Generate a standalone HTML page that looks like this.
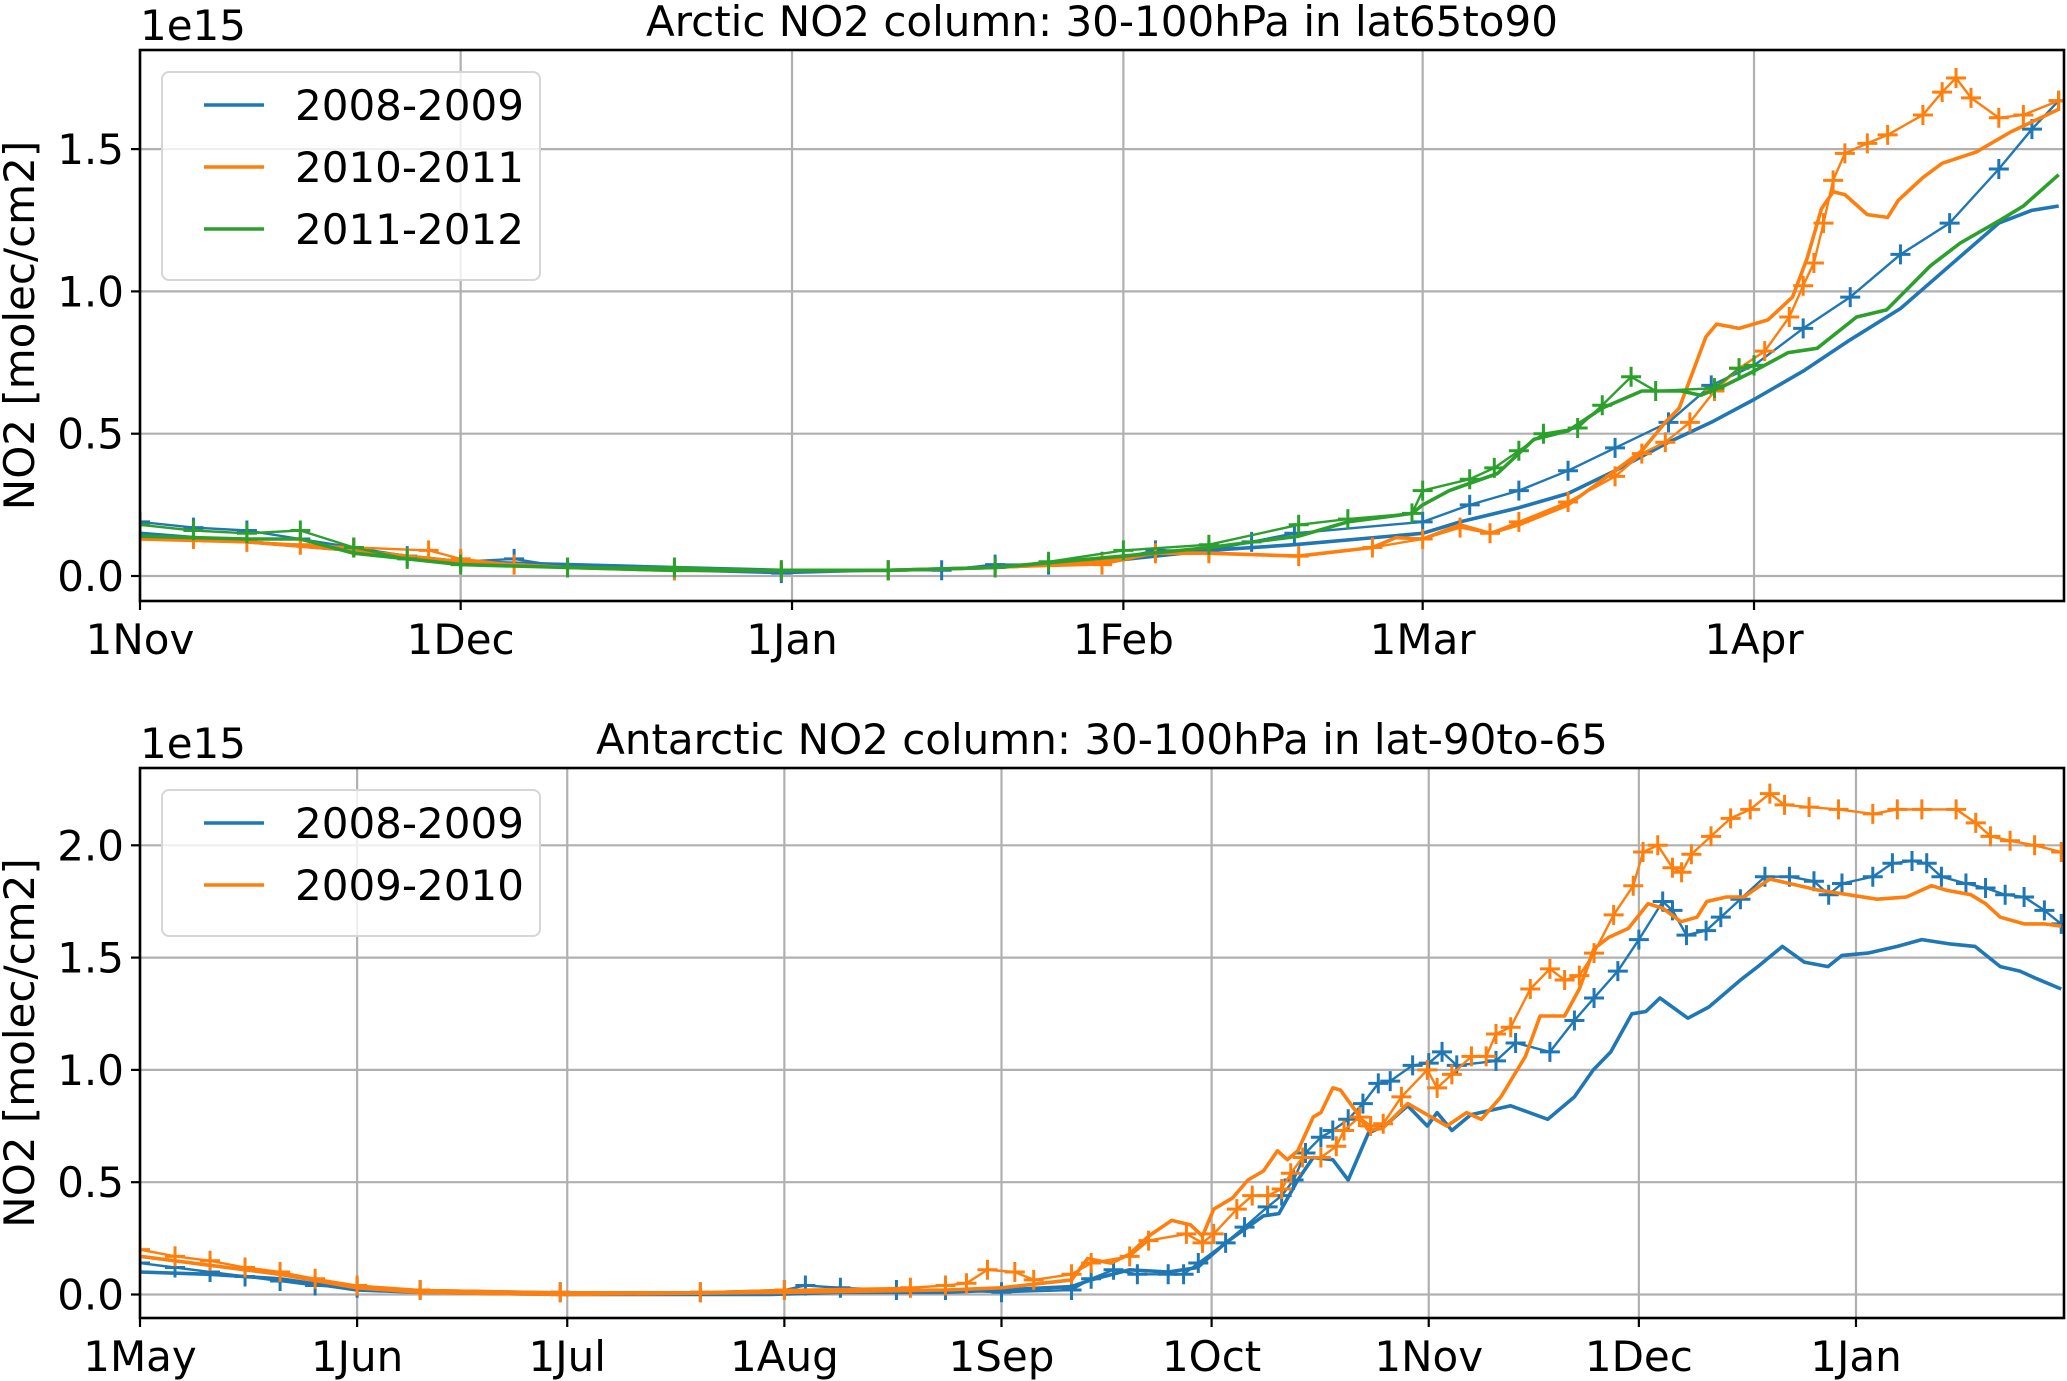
<!DOCTYPE html>
<html><head><meta charset="utf-8"><style>
html,body{margin:0;padding:0;background:#fff}
svg{display:block}
text{font-family:"DejaVu Sans","Liberation Sans",sans-serif;fill:#000}
</style></head><body>
<svg id="fig" width="2067" height="1381" viewBox="0 0 2067 1381" xmlns="http://www.w3.org/2000/svg"></svg>
<script>
// ---------- Top panel (Arctic), x = days since 1 Nov ----------
const topXTicks = [0,30,61,92,120,151];
const topXTickLabels = ["1Nov","1Dec","1Jan","1Feb","1Mar","1Apr"];
const topYTicks = [0,0.5,1.0,1.5];
const topYTickLabels = ["0.0","0.5","1.0","1.5"];
const topLegend = ["2008-2009","2010-2011","2011-2012"];

const a08ModDays = [0,10,20,30,40,50,60,70,80,90,100,108,120,123.5,129,133.6,138,143,147,151,155.6,160,164.7,169.3,173.9,177,179.5];
const a08ModVals = [0.15,0.12,0.09,0.05,0.04,0.03,0.02,0.02,0.03,0.05,0.09,0.11,0.15,0.19,0.24,0.29,0.37,0.47,0.54,0.62,0.72,0.83,0.94,1.09,1.24,1.285,1.30];
const a08ObsDays = [0,5,10,15,20,25,30,35,40,50,60,70,75,80,85,90,95,100,104,108,120,124.4,129,133.6,138,143,147,151,155.6,160,164.7,169.3,173.9,177,179.5];
const a08ObsVals = [0.19,0.17,0.16,0.13,0.10,0.07,0.05,0.06,0.03,0.02,0.01,0.02,0.02,0.04,0.04,0.05,0.09,0.09,0.12,0.15,0.19,0.25,0.30,0.37,0.45,0.54,0.67,0.74,0.87,0.98,1.13,1.24,1.43,1.57,1.67];
const a10ModDays = [0,10,20,30,40,50,60,70,80,90,95,100,108.4,115.3,117.5,120,123.5,126.3,129,133.6,138,140.5,142.7,144,145.3,146.5,147.5,149.6,152.3,154.6,156,157.3,158.4,159.5,161.6,163.5,164.5,166.8,168.6,171.8,175,179.5];
const a10ModVals = [0.13,0.12,0.09,0.05,0.03,0.02,0.02,0.02,0.03,0.05,0.08,0.08,0.07,0.10,0.135,0.13,0.18,0.15,0.18,0.25,0.37,0.44,0.54,0.59,0.72,0.84,0.885,0.87,0.90,0.98,1.12,1.29,1.35,1.34,1.27,1.26,1.32,1.40,1.45,1.49,1.56,1.64];
const a10ObsDays = [0,5,10,15,20,27,30,35,40,50,60,70,80,90,95,100,108.4,115.3,120,123.5,126.3,129,133.6,138,140.5,142.7,145,147.3,149.6,152,154.3,155.6,156.6,157.5,158.4,159.5,161.6,163.5,166.8,168.6,169.9,171.3,173.9,176.2,179.5];
const a10ObsVals = [0.13,0.13,0.12,0.11,0.10,0.09,0.06,0.04,0.03,0.02,0.02,0.02,0.03,0.04,0.08,0.08,0.07,0.10,0.13,0.17,0.15,0.19,0.26,0.35,0.43,0.47,0.54,0.65,0.73,0.79,0.91,1.02,1.10,1.24,1.39,1.485,1.52,1.55,1.62,1.70,1.75,1.68,1.61,1.62,1.67];
const a11ModDays = [0,10,15,20,30,40,50,60,70,80,92,100,108.4,113,119,120,122.5,127,130.4,133.6,136.8,140.5,144.2,146,148.3,151,154.2,156.9,160.6,163.4,167.5,170.3,174,176.2,179.5];
const a11ModVals = [0.14,0.13,0.13,0.08,0.04,0.03,0.02,0.02,0.02,0.03,0.07,0.10,0.14,0.19,0.22,0.25,0.30,0.36,0.48,0.51,0.59,0.65,0.65,0.635,0.67,0.72,0.785,0.80,0.91,0.935,1.09,1.17,1.25,1.30,1.41];
const a11ObsDays = [0,5,10,15,20,25,30,40,50,60,70,80,85,92,100,108.4,113,119,120,124.4,126.7,129,131.3,134.5,136.8,139.5,141.8,147.3,149.6,151];
const a11ObsVals = [0.18,0.16,0.15,0.16,0.10,0.06,0.04,0.03,0.03,0.02,0.02,0.03,0.05,0.09,0.11,0.18,0.20,0.22,0.30,0.34,0.38,0.44,0.50,0.52,0.60,0.70,0.65,0.66,0.73,0.74];

// ---------- Bottom panel (Antarctic), x = days since 1 May ----------
const botXTicks = [0,31,61,92,123,153,184,214,245];
const botXTickLabels = ["1May","1Jun","1Jul","1Aug","1Sep","1Oct","1Nov","1Dec","1Jan"];
const botYTicks = [0,0.5,1.0,1.5,2.0];
const botYTickLabels = ["0.0","0.5","1.0","1.5","2.0"];
const botLegend = ["2008-2009","2009-2010"];

const b08ModDays = [0,10,20,31,40,60,90,100,115,123,133,135.8,141.3,146.8,151,155,160.4,162.6,165.3,167.5,170.3,172.5,175.4,177.7,181,183.8,185.2,187.3,190,195.7,201,204.8,207.5,210,213,215,217,221,224,228.5,231,234.5,237.6,241,243,246.7,250.9,254.4,258.6,262,265.6,268.4,270.5,274.3];
const b08ModVals = [0.10,0.09,0.07,0.02,0.01,0.00,0.00,0.01,0.01,0.02,0.035,0.065,0.11,0.10,0.12,0.23,0.35,0.36,0.51,0.61,0.60,0.51,0.72,0.75,0.84,0.75,0.81,0.73,0.80,0.84,0.78,0.88,1.00,1.08,1.25,1.26,1.32,1.23,1.28,1.40,1.46,1.55,1.48,1.46,1.51,1.52,1.55,1.58,1.56,1.55,1.46,1.44,1.41,1.36];
const b08ObsDays = [0,5,10,15,20,25,31,40,60,80,92,95,100,108,115,123,133,135.8,139,142.4,146.8,149,151.1,155,157.7,161,163,164.7,166.4,168.6,170.3,172.5,174.6,176.8,178.5,181.7,184,185.9,188,193.6,196.4,201.3,204.8,207.6,211,214,217.4,218.8,220.8,223.6,225.7,228.5,232,235.5,239,241.1,243,247.4,250.2,253,255.1,257.2,260.7,263.5,266.3,269,271.9,274.3];
const b08ObsVals = [0.14,0.12,0.10,0.08,0.06,0.04,0.03,0.02,0.01,0.01,0.02,0.04,0.03,0.02,0.02,0.01,0.02,0.07,0.11,0.09,0.09,0.09,0.14,0.23,0.30,0.39,0.44,0.51,0.63,0.70,0.73,0.78,0.85,0.94,0.95,1.02,1.03,1.08,1.02,1.04,1.12,1.08,1.22,1.32,1.44,1.58,1.75,1.71,1.60,1.62,1.68,1.76,1.86,1.86,1.84,1.78,1.83,1.86,1.92,1.93,1.92,1.86,1.83,1.81,1.78,1.77,1.71,1.65];
const b09ModDays = [0,10,20,31,40,60,92,115,123,133,135.3,138.6,141.3,144,147.3,150,151.7,153.3,156,158.2,160.4,162.4,163.8,165.3,167.5,168.6,170.3,171.4,173.5,175.4,177.4,181,183.8,186.6,189.4,191.5,194.3,197.8,199.9,203.4,205.5,207.6,209.7,212.5,215.3,217.4,220,222.3,223.7,226.5,229,232.7,235.5,239.7,243.9,248,252.2,255.8,257.9,261.4,263.5,265.6,269,271.9,274.3];
const b09ModVals = [0.17,0.13,0.09,0.03,0.01,0.00,0.01,0.02,0.03,0.065,0.16,0.14,0.18,0.26,0.33,0.31,0.26,0.38,0.43,0.51,0.55,0.64,0.60,0.64,0.79,0.81,0.92,0.91,0.82,0.73,0.74,0.85,0.80,0.75,0.81,0.78,0.88,1.06,1.24,1.24,1.36,1.54,1.59,1.63,1.74,1.72,1.66,1.68,1.75,1.77,1.77,1.85,1.83,1.80,1.78,1.76,1.77,1.82,1.80,1.78,1.74,1.68,1.65,1.65,1.64];
const b09ObsDays = [0,5,10,15,20,25,31,40,60,80,92,110,115,118,121,124.9,127.6,133,135.8,141.3,144,149.4,151.7,153.3,156.6,158.8,161,163,164.3,166,168.6,170.8,171.9,174.1,175.7,177.5,180.1,183.8,185.2,187.3,190.1,192.2,193.6,195.7,198.5,201.3,203.4,205.5,207.6,210.4,213.2,214.6,216.7,218.8,220.1,221.5,224.3,227.1,229.9,232.7,234.8,238.3,242.5,247.4,250.9,254.4,259.3,262.1,264.2,267,270.5,274.3];
const b09ObsVals = [0.20,0.17,0.15,0.12,0.10,0.07,0.04,0.02,0.01,0.01,0.02,0.03,0.04,0.05,0.11,0.10,0.065,0.09,0.14,0.17,0.24,0.27,0.23,0.27,0.38,0.44,0.44,0.47,0.54,0.61,0.61,0.66,0.73,0.79,0.75,0.76,0.88,1.00,0.92,0.98,1.06,1.06,1.16,1.19,1.36,1.45,1.40,1.42,1.52,1.69,1.82,1.97,2.00,1.90,1.88,1.96,2.04,2.12,2.16,2.23,2.18,2.17,2.16,2.14,2.16,2.16,2.16,2.10,2.04,2.02,2.00,1.97];

const C = {blue:"#1f77b4", orange:"#ff7f0e", green:"#2ca02c"};
const NS = "http://www.w3.org/2000/svg";
const svg = document.getElementById("fig");
function mk(tag, attrs, parent){
  const e = document.createElementNS(NS, tag);
  for (const k in attrs) e.setAttribute(k, attrs[k]);
  (parent||svg).appendChild(e);
  return e;
}

function panel(cfg){
  const g = mk("g", {});
  
  
  const L=cfg.left, R=cfg.right, T=cfg.top, B=cfg.bottom;
  const xs = d => L + (d - cfg.xmin) / (cfg.xmax - cfg.xmin) * (R - L);
  const ys = v => cfg.y0 - v * cfg.ppu;
  const clip = mk("clipPath", {id: cfg.name + "-clip"}, g);
  mk("rect", {x:L, y:T, width:R-L, height:B-T}, clip);
  cfg.xTicks.forEach((t,i) => {
    const l = mk("line", {x1:xs(t), x2:xs(t), y1:T, y2:B, stroke:"#b0b0b0", "stroke-width":2.2}, g);
    
    
    const tk = mk("line", {x1:xs(t), x2:xs(t), y1:B, y2:B+9, stroke:"#000", "stroke-width":2.2}, g);
    
    
    const tx = mk("text", {x:xs(t), y:B+53, "font-size":42, "text-anchor":"middle"}, g);
    tx.textContent = cfg.xLabels[i];
    
    
  });
  cfg.yTicks.forEach((t,i) => {
    const l = mk("line", {x1:L, x2:R, y1:ys(t), y2:ys(t), stroke:"#b0b0b0", "stroke-width":2.2}, g);
    
    
    const tk = mk("line", {x1:L-9, x2:L, y1:ys(t), y2:ys(t), stroke:"#000", "stroke-width":2.2}, g);
    
    
    const tx = mk("text", {x:L-16, y:ys(t)+15, "font-size":42, "text-anchor":"end"}, g);
    tx.textContent = cfg.yLabels[i];
    
    
  });
  const sg = mk("g", {"clip-path":"url(#" + cfg.name + "-clip)"}, g);
  cfg.series.forEach(s => {
    const pts = s.days.map((d,i) => xs(d).toFixed(1) + "," + ys(s.vals[i]).toFixed(1)).join(" ");
    const pl = mk("polyline", {points:pts, fill:"none", stroke:s.color, "stroke-width": s.obs ? 2.4 : 3.6, "stroke-linejoin":"round"}, sg);
    
    
    if (s.obs) {
      s.days.forEach((d,i) => {
        const x = xs(d), y = ys(s.vals[i]);
        const m = mk("path", {d:`M${x-10},${y}H${x+10}M${x},${y-10}V${y+10}`, stroke:s.color, "stroke-width":3, fill:"none"}, sg);
        
        
      });
    }
  });
  const fr = mk("rect", {x:L, y:T, width:R-L, height:B-T, fill:"none", stroke:"#000", "stroke-width":2.6}, g);
  
  
  const ti = mk("text", {x:(L+R)/2, y:T-14, "font-size":42, "text-anchor":"middle"}, g);
  ti.textContent = cfg.title;
  
  
  const ex = mk("text", {x:L, y:T-10, "font-size":42}, g);
  ex.textContent = "1e15";
  
  
  const yl = mk("text", {x:0, y:0, "font-size":42, "text-anchor":"middle", transform:`translate(34,${(T+B)/2}) rotate(-90)`}, g);
  yl.textContent = "NO2 [molec/cm2]";
  
  
  const lg = mk("g", {}, g);
  
  
  const lh = 62*cfg.legend.length + 22;
  mk("rect", {x:L+22, y:T+22, width:378, height:lh, rx:7, fill:"#fff", "fill-opacity":0.8, stroke:"#d6d6d6", "stroke-width":2}, lg);
  cfg.legend.forEach((name,i) => {
    const y = T + 55 + i*62;
    const e = mk("g", {}, lg);
    
    
    mk("line", {x1:L+64, x2:L+124, y1:y, y2:y, stroke:cfg.legendColors[i], "stroke-width":3.6}, e);
    const t = mk("text", {x:L+155, y:y+15, "font-size":42}, e);
    t.textContent = name;
  });
}

panel({name:"arctic-panel", left:140, right:2064, top:50, bottom:601, xmin:0, xmax:180, y0:576, ppu:284.6,
  xTicks:topXTicks, xLabels:topXTickLabels, yTicks:topYTicks, yLabels:topYTickLabels,
  title:"Arctic NO2 column: 30-100hPa in lat65to90", legend:topLegend, legendColors:[C.blue,C.orange,C.green],
  series:[
    {name:"arctic-2008-2009", color:C.blue, days:a08ModDays, vals:a08ModVals},
    {name:"arctic-2008-2009", color:C.blue, days:a08ObsDays, vals:a08ObsVals, obs:true},
    {name:"arctic-2010-2011", color:C.orange, days:a10ModDays, vals:a10ModVals},
    {name:"arctic-2010-2011", color:C.orange, days:a10ObsDays, vals:a10ObsVals, obs:true},
    {name:"arctic-2011-2012", color:C.green, days:a11ModDays, vals:a11ModVals},
    {name:"arctic-2011-2012", color:C.green, days:a11ObsDays, vals:a11ObsVals, obs:true}
  ]});
panel({name:"antarctic-panel", left:140, right:2064, top:768, bottom:1318, xmin:0, xmax:274.7, y0:1294.5, ppu:224.6,
  xTicks:botXTicks, xLabels:botXTickLabels, yTicks:botYTicks, yLabels:botYTickLabels,
  title:"Antarctic NO2 column: 30-100hPa in lat-90to-65", legend:botLegend, legendColors:[C.blue,C.orange],
  series:[
    {name:"antarctic-2008-2009", color:C.blue, days:b08ModDays, vals:b08ModVals},
    {name:"antarctic-2008-2009", color:C.blue, days:b08ObsDays, vals:b08ObsVals, obs:true},
    {name:"antarctic-2009-2010", color:C.orange, days:b09ModDays, vals:b09ModVals},
    {name:"antarctic-2009-2010", color:C.orange, days:b09ObsDays, vals:b09ObsVals, obs:true}
  ]});
</script>
</body></html>
